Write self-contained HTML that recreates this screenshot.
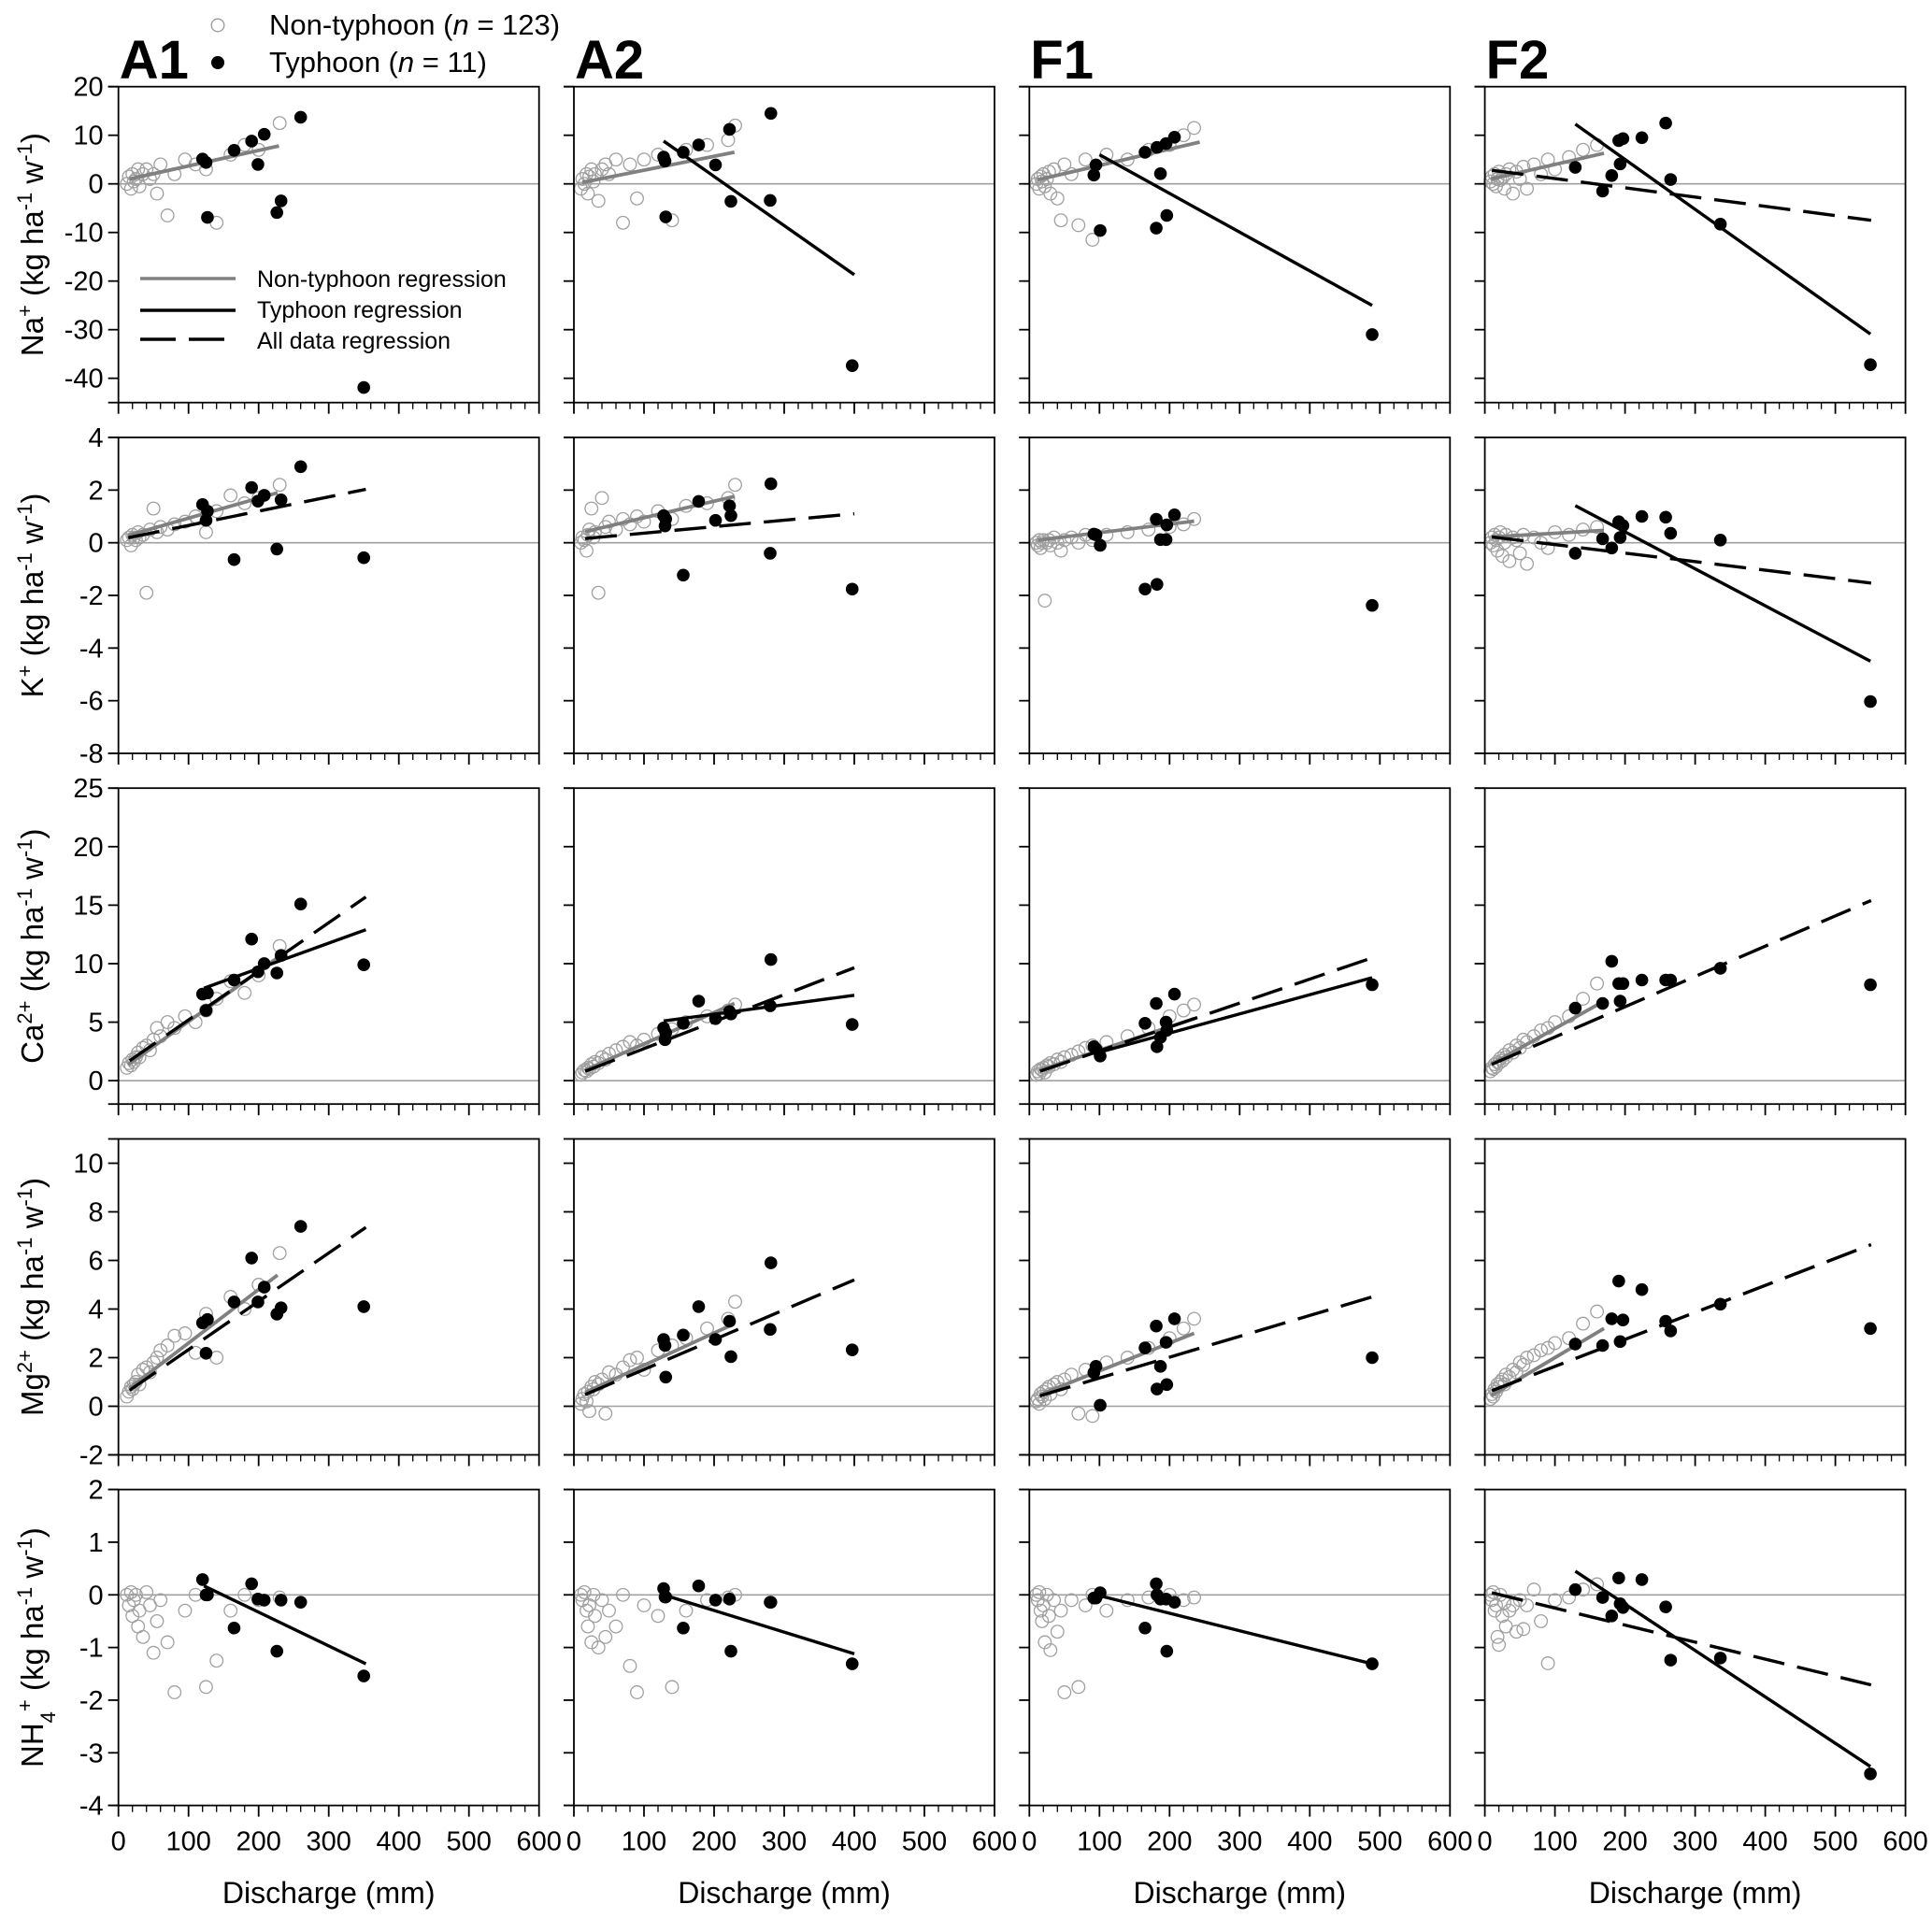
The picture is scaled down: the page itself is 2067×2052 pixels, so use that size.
<!DOCTYPE html>
<html><head><meta charset="utf-8"><title>Typhoon vs non-typhoon ion flux regressions</title>
<style>html,body{margin:0;padding:0;background:#fff}svg{display:block;font-family:"Liberation Sans",Arial,sans-serif}</style>
</head><body>
<svg id="chart" xmlns="http://www.w3.org/2000/svg" width="2067" height="2052" viewBox="0 0 2067 2052">
<g>
<circle cx="233" cy="27" r="6.8" fill="none" stroke="#999" stroke-width="1.3"/>
<text x="288" y="37" font-size="31">Non-typhoon (<tspan font-style="italic">n</tspan> = 123)</text>
<circle cx="233" cy="67" r="7" fill="#000"/>
<text x="288" y="77" font-size="31">Typhoon (<tspan font-style="italic">n</tspan> = 11)</text>
</g>
<g>
<line x1="150" y1="298" x2="252" y2="298" stroke="#808080" stroke-width="3.5"/>
<text x="275" y="307" font-size="25">Non-typhoon regression</text>
<line x1="150" y1="332" x2="252" y2="332" stroke="#000" stroke-width="3.5"/>
<text x="275" y="340" font-size="25">Typhoon regression</text>
<line x1="150" y1="363" x2="252" y2="363" stroke="#000" stroke-width="3.5" stroke-dasharray="38,14"/>
<text x="275" y="373" font-size="25">All data regression</text>
</g>
</svg>
<script>
const sites = ['A1','A2','F1','F2'];
const typhoonQ = [
 [120,125,127,165,190,199,208,226,232,260,350],
 [128,130,131,156,178,202,222,224,280,281,397],
 [92,95,101,165,181,182,187,195,196,207,489],
 [129,168,181,191,193,197,224,258,265,336,550]];
const nonTyphoonQ = [
 [12,15,18,20,22,25,28,30,35,40,45,50,55,60,70,80,95,110,125,140,160,180,200,230],
 [10,12,15,18,20,22,25,28,30,35,40,45,50,60,70,80,90,100,120,140,160,190,220,230],
 [10,12,14,16,18,20,22,25,28,30,35,40,45,50,60,70,80,90,110,140,170,200,220,235],
 [8,10,12,14,16,18,20,22,25,28,30,35,40,45,50,55,60,70,80,90,100,120,140,160]];

const naTyphoon = [
 [5.1,4.4,-6.9,6.9,8.8,4.0,10.2,-5.9,-3.5,13.7,-41.9],
 [5.5,4.7,-6.8,6.5,8,3.9,11.2,-3.6,-3.4,14.5,-37.4],
 [1.8,3.9,-9.6,6.5,-9.1,7.5,2.1,8.3,-6.5,9.6,-31],
 [3.4,-1.5,1.7,8.9,4.1,9.3,9.5,12.5,0.9,-8.3,-37.2]];
const naNonTyphoon = [
 [0,1.5,-1,2,0.5,1,3,-0.5,2,3,1,2,-2,4,-6.5,2,5,4,3,-8,6,8,7,12.5],
 [-1,1,0,2,-2,1.5,3,0.5,2,-3.5,3,4,2,5,-8,4,-3,5,6,-7.5,7,8,9,12],
 [0,1,-1,1.5,0.5,2,-0.5,1,2.5,-2,3,-3,-7.5,4,2,-8.5,5,-11.5,6,5,7,8,10,11.5],
 [0.5,1.5,0,2,-0.5,1,2.5,0.8,1.2,-1,2,3,-2,2.5,1,3.5,-1,4,2,5,3,5.5,7,8]];
const naLines = [
 [['non',16,1,229,7.8]],
 [['non',12,0.3,229,6.5],['typ',128,8.8,400,-18.7]],
 [['non',11,0.8,243,8.6],['typ',100,6,489,-25]],
 [['non',9,1,170,6.3],['typ',129,12.3,550,-30.9],['all',10,2.8,551,-7.5]]];

const kTyphoon = [
 [1.45,0.85,1.2,-0.64,2.1,1.58,1.8,-0.24,1.63,2.89,-0.57],
 [1.03,0.64,0.9,-1.23,1.57,0.85,1.4,1.03,-0.4,2.24,-1.76],
 [0.33,0.3,-0.1,-1.76,0.89,-1.58,0.12,0.12,0.68,1.06,-2.38],
 [-0.4,0.15,-0.2,0.8,0.2,0.65,1.0,0.97,0.36,0.1,-6.03]];
const kNonTyphoon = [
 [0.1,0.2,-0.1,0.3,0.2,0.1,0.4,0.2,0.3,-1.9,0.5,1.3,0.4,0.6,0.5,0.7,0.8,1.0,0.4,1.2,1.8,1.5,1.7,2.2],
 [0,0.2,0.1,-0.3,0.3,0.5,1.3,0.2,0.4,-1.9,1.7,0.6,0.8,0.5,0.9,0.7,1.0,0.8,1.2,0.9,1.4,1.5,1.7,2.2],
 [0,-0.1,0.1,-0.2,0,0.1,-2.2,0,0.1,-0.1,0.2,0,-0.3,0.1,0.2,0,0.3,0.1,0.3,0.4,0.5,0.6,0.7,0.9],
 [0,0.2,-0.1,0.3,0.1,-0.3,0.2,0.4,-0.5,0,0.3,-0.7,0.2,0.1,-0.4,0.3,-0.8,0.2,0,-0.2,0.4,0.3,0.5,0.6]];
const kLines = [
 [['non',14,0.28,227,1.9],['all',14,0.19,353,2.03]],
 [['non',16,0.42,229,1.76],['all',16,0.16,400,1.1]],
 [['non',12,0.1,235,0.82]],
 [['non',9,0.22,170,0.47],['typ',129,1.41,550,-4.5],['all',10,0.22,551,-1.53]]];

const caTyphoon = [
 [7.4,6.0,7.5,8.6,12.1,9.3,10.0,9.2,10.7,15.1,9.9],
 [4.5,3.5,4.1,4.9,6.8,5.3,5.9,5.7,6.4,10.35,4.8],
 [2.9,2.7,2.1,4.9,6.6,2.9,3.7,5.0,4.3,7.4,8.2],
 [6.2,6.6,10.2,8.3,6.8,8.3,8.6,8.6,8.6,9.6,8.2]];
const caNonTyphoon = [
 [1.1,1.5,1.3,1.8,1.6,2.0,2.4,2.0,2.8,3.0,2.6,3.5,4.5,3.8,5.0,4.5,5.5,5.0,6.0,7.0,8.5,7.5,9.0,11.5],
 [0.5,0.7,0.9,0.8,1.1,1.0,1.4,1.2,1.6,1.5,2.0,1.8,2.3,2.6,2.9,3.3,3.0,3.5,4.0,4.4,5.0,5.5,6.0,6.5],
 [0.5,0.8,0.6,1.0,0.9,1.1,0.7,1.3,1.2,1.5,1.4,1.8,1.6,2.0,2.2,2.5,2.8,3.0,3.3,3.8,4.5,5.5,6.0,6.5],
 [0.8,1.1,1.0,1.4,1.2,1.6,1.5,1.9,1.7,2.2,2.0,2.6,2.4,3.0,2.8,3.5,3.3,3.8,4.3,4.5,5.0,5.5,7.0,8.3]];
const caLines = [
 [['non',14,1.37,227,10.5],['typ',122,7.9,353,12.9],['all',16,1.7,353,15.7]],
 [['non',16,0.9,229,6.6],['typ',128,5.1,400,7.3],['all',16,0.8,400,9.65]],
 [['non',15,0.9,235,5.3],['typ',92,2.3,489,8.8],['all',15,0.8,489,10.5]],
 [['non',9,1.4,170,6.8],['all',10,1.4,551,15.4]]];

const mgTyphoon = [
 [3.43,2.18,3.57,4.29,6.1,4.29,4.9,3.79,4.05,7.4,4.1],
 [2.75,2.5,1.2,2.93,4.1,2.75,3.5,2.04,3.16,5.9,2.32],
 [1.38,1.64,0.04,2.4,3.3,0.71,1.64,2.63,0.89,3.6,2.0],
 [2.56,2.5,3.6,5.15,2.66,3.55,4.8,3.5,3.1,4.2,3.2]];
const mgNonTyphoon = [
 [0.4,0.6,0.8,0.7,0.9,1.0,1.3,0.9,1.5,1.6,1.4,1.8,2.0,2.3,2.5,2.9,3.0,2.2,3.8,2.0,4.5,4.0,5.0,6.3],
 [0.1,0.3,0.5,0.2,0.6,-0.2,0.8,0.7,1.0,0.9,1.1,-0.3,1.4,1.3,1.6,1.9,2.0,1.5,2.3,2.5,2.8,3.2,3.6,4.3],
 [0.2,0.3,0.1,0.5,0.4,0.6,0.3,0.7,0.8,0.5,0.9,1.0,0.7,1.1,1.3,-0.3,1.5,-0.4,1.8,2.0,2.4,2.8,3.2,3.6],
 [0.3,0.5,0.4,0.7,0.6,0.9,0.8,1.0,1.1,0.9,1.3,1.2,1.5,1.4,1.8,1.7,2.0,2.1,2.3,2.4,2.6,2.8,3.4,3.9]];
const mgLines = [
 [['non',16,0.75,227,5.4],['all',16,0.66,353,7.36]],
 [['non',16,0.57,229,3.4],['all',16,0.48,400,5.2]],
 [['non',15,0.48,235,3.0],['all',15,0.43,489,4.5]],
 [['non',9,0.44,170,3.2],['all',10,0.64,551,6.65]]];

const nhTyphoon = [
 [0.29,0.0,0.0,-0.63,0.21,-0.08,-0.1,-1.07,-0.1,-0.14,-1.54],
 [0.12,-0.04,-0.04,-0.63,0.17,-0.1,-0.08,-1.07,-0.14,-0.14,-1.31],
 [-0.06,-0.06,0.04,-0.63,0.21,0.0,-0.08,-0.08,-1.07,-0.14,-1.31],
 [0.1,-0.05,-0.4,0.32,-0.17,-0.24,0.29,-0.23,-1.24,-1.2,-3.4]];
const nhNonTyphoon = [
 [0,-0.2,0.05,-0.4,-0.1,0,-0.6,-0.3,-0.8,0.05,-0.2,-1.1,-0.5,-0.1,-0.9,-1.85,-0.3,0,-1.75,-1.25,-0.3,0,-0.1,-0.05],
 [0,-0.1,0.05,-0.3,-0.6,-0.2,-0.9,0,-0.4,-1.0,-0.1,-0.8,-0.3,-0.6,0,-1.35,-1.85,-0.2,-0.4,-1.75,-0.3,-0.1,-0.05,0],
 [0,-0.1,0.05,-0.3,-0.5,-0.2,-0.9,0,-0.4,-1.05,-0.1,-0.7,-0.3,-1.85,-0.1,-1.75,-0.2,0,-0.3,-0.1,-0.05,0,-0.1,-0.05],
 [0,-0.1,0.05,-0.3,-0.2,-0.8,-0.95,0,-0.4,-0.15,-0.6,-0.3,-0.2,-0.7,-0.1,-0.65,-0.2,0.1,-0.5,-1.3,-0.1,-0.05,0.1,0.2]];
const nhLines = [
 [['typ',122,0.17,353,-1.31]],
 [['typ',128,0,400,-1.12]],
 [['typ',101,-0.02,489,-1.31]],
 [['typ',129,0.45,550,-3.26],['all',10,0.04,551,-1.71]]];

const naTicks = [-40,-30,-20,-10,0,10,20];
const kTicks = [-8,-6,-4,-2,0,2,4];
const caTicks = [0,5,10,15,20,25];
const mgTicks = [-2,0,2,4,6,8,10];
const nhTicks = [-4,-3,-2,-1,0,1,2];
const xTicks = [0,100,200,300,400,500,600];
const yMins = [-45,-8,-2,-2,-4];
const yMaxs = [20,4,25,11,2];
const xMax = 600;

const rowsT = [naTyphoon,kTyphoon,caTyphoon,mgTyphoon,nhTyphoon];
const rowsN = [naNonTyphoon,kNonTyphoon,caNonTyphoon,mgNonTyphoon,nhNonTyphoon];
const rowsL = [naLines,kLines,caLines,mgLines,nhLines];
const rowsTicks = [naTicks,kTicks,caTicks,mgTicks,nhTicks];
const rowNames = ['na','k','ca','mg','nh4'];

const NS = 'http://www.w3.org/2000/svg';
const svg = document.getElementById('chart');
const colLeft = [126.7, 614, 1101.3, 1588.6];
const rowTop = [92.7, 468, 843.2, 1218.5, 1593.6];
const PW = 450, PH = 338;

function mk(tag, attrs, parent) {
  const e = document.createElementNS(NS, tag);
  for (const k in attrs) e.setAttribute(k, attrs[k]);
  parent.appendChild(e);
  return e;
}

for (let r = 0; r < 5; r++) {
  for (let c = 0; c < 4; c++) {
    const L = colLeft[c], T = rowTop[r];
    const ymin = yMins[r], ymax = yMaxs[r];
    const sx = v => L + v / xMax * PW;
    const sy = v => T + (ymax - v) / (ymax - ymin) * PH;
    const g = mk('g', {}, svg);
    
    

    const zero = mk('line', {x1: L, x2: L + PW, y1: sy(0), y2: sy(0), stroke: '#a0a0a0', 'stroke-width': 1.6}, g);
    
    

    const nq = nonTyphoonQ[c], nv = rowsN[r][c];
    for (let i = 0; i < nq.length; i++) {
      const p = mk('circle', {cx: sx(nq[i]), cy: sy(nv[i]), r: 6.8, fill: 'none', stroke: '#a0a0a0', 'stroke-width': 1.3}, g);
      
      
    }
    const lines = rowsL[r][c];
    for (const ln of lines) {
      const a = {x1: sx(ln[1]), y1: sy(ln[2]), x2: sx(ln[3]), y2: sy(ln[4]), 'stroke-width': 3.4};
      if (ln[0] === 'non') { a.stroke = '#808080'; a['stroke-width'] = 3.8; }
      else a.stroke = '#000';
      if (ln[0] === 'all') a['stroke-dasharray'] = '34,14';
      const l = mk('line', a, g);
      
      
    }
    const tq = typhoonQ[c], tv = rowsT[r][c];
    for (let i = 0; i < tq.length; i++) {
      const p = mk('circle', {cx: sx(tq[i]), cy: sy(tv[i]), r: 6.8, fill: '#000'}, g);
      
      
    }
    const fr = mk('rect', {x: L, y: T, width: PW, height: PH, fill: 'none', stroke: '#000', 'stroke-width': 1.8}, g);
    
    
    const ext = mk('line', {x1: L - 11, x2: L, y1: T + PH, y2: T + PH, stroke: '#000', 'stroke-width': 1.8}, g);
    
    
    const ext2 = mk('line', {x1: L - 11, x2: L, y1: T, y2: T, stroke: '#000', 'stroke-width': 1.8}, g);
    
    

    for (const t of rowsTicks[r]) {
      const tk = mk('line', {x1: L - 11, x2: L, y1: sy(t), y2: sy(t), stroke: '#000', 'stroke-width': 1.8}, g);
      
      
      if (c === 0) {
        const tl = mk('text', {x: L - 16, y: sy(t) + 10, 'font-size': 29, 'text-anchor': 'end'}, g);
        tl.textContent = t;
        
        
      }
    }
    for (let v = 0; v <= xMax; v += 20) {
      const major = v % 100 === 0;
      const tk = mk('line', {x1: sx(v), x2: sx(v), y1: T + PH, y2: T + PH + (major ? 12 : 7), stroke: '#000', 'stroke-width': major ? 1.8 : 1.3}, g);
      
      
    }
    if (r === 4) {
      for (const t of xTicks) {
        const tl = mk('text', {x: sx(t), y: T + PH + 48, 'font-size': 29, 'text-anchor': 'middle'}, g);
        tl.textContent = t;
        
        
      }
      const xt = mk('text', {x: L + PW / 2, y: 2036, 'font-size': 32, 'text-anchor': 'middle'}, g);
      xt.textContent = 'Discharge (mm)';
      
      
    }
    if (r === 0) {
      const pt = mk('text', {x: L + 1, y: 84, 'font-size': 58, 'font-weight': 'bold'}, g);
      pt.textContent = sites[c];
      
      
    }
  }
}

const yTitles = [
  ['Na', '+', null],
  ['K', '+', null],
  ['Ca', '2+', null],
  ['Mg', '2+', null],
  ['NH', '+', '4']];
for (let r = 0; r < 5; r++) {
  const cy = rowTop[r] + PH / 2;
  const t = mk('text', {x: 0, y: 0, 'font-size': 33, 'text-anchor': 'middle', transform: 'translate(46,' + cy + ') rotate(-90)'}, svg);
  
  
  const yt = yTitles[r];
  let html = yt[0];
  if (yt[2]) html += '<tspan font-size="22" baseline-shift="sub">' + yt[2] + '</tspan>';
  html += '<tspan font-size="22" baseline-shift="super">' + yt[1] + '</tspan>';
  html += ' (kg ha<tspan font-size="22" baseline-shift="super">-1</tspan> w<tspan font-size="22" baseline-shift="super">-1</tspan>)';
  t.innerHTML = html;
}
</script>
</body></html>
